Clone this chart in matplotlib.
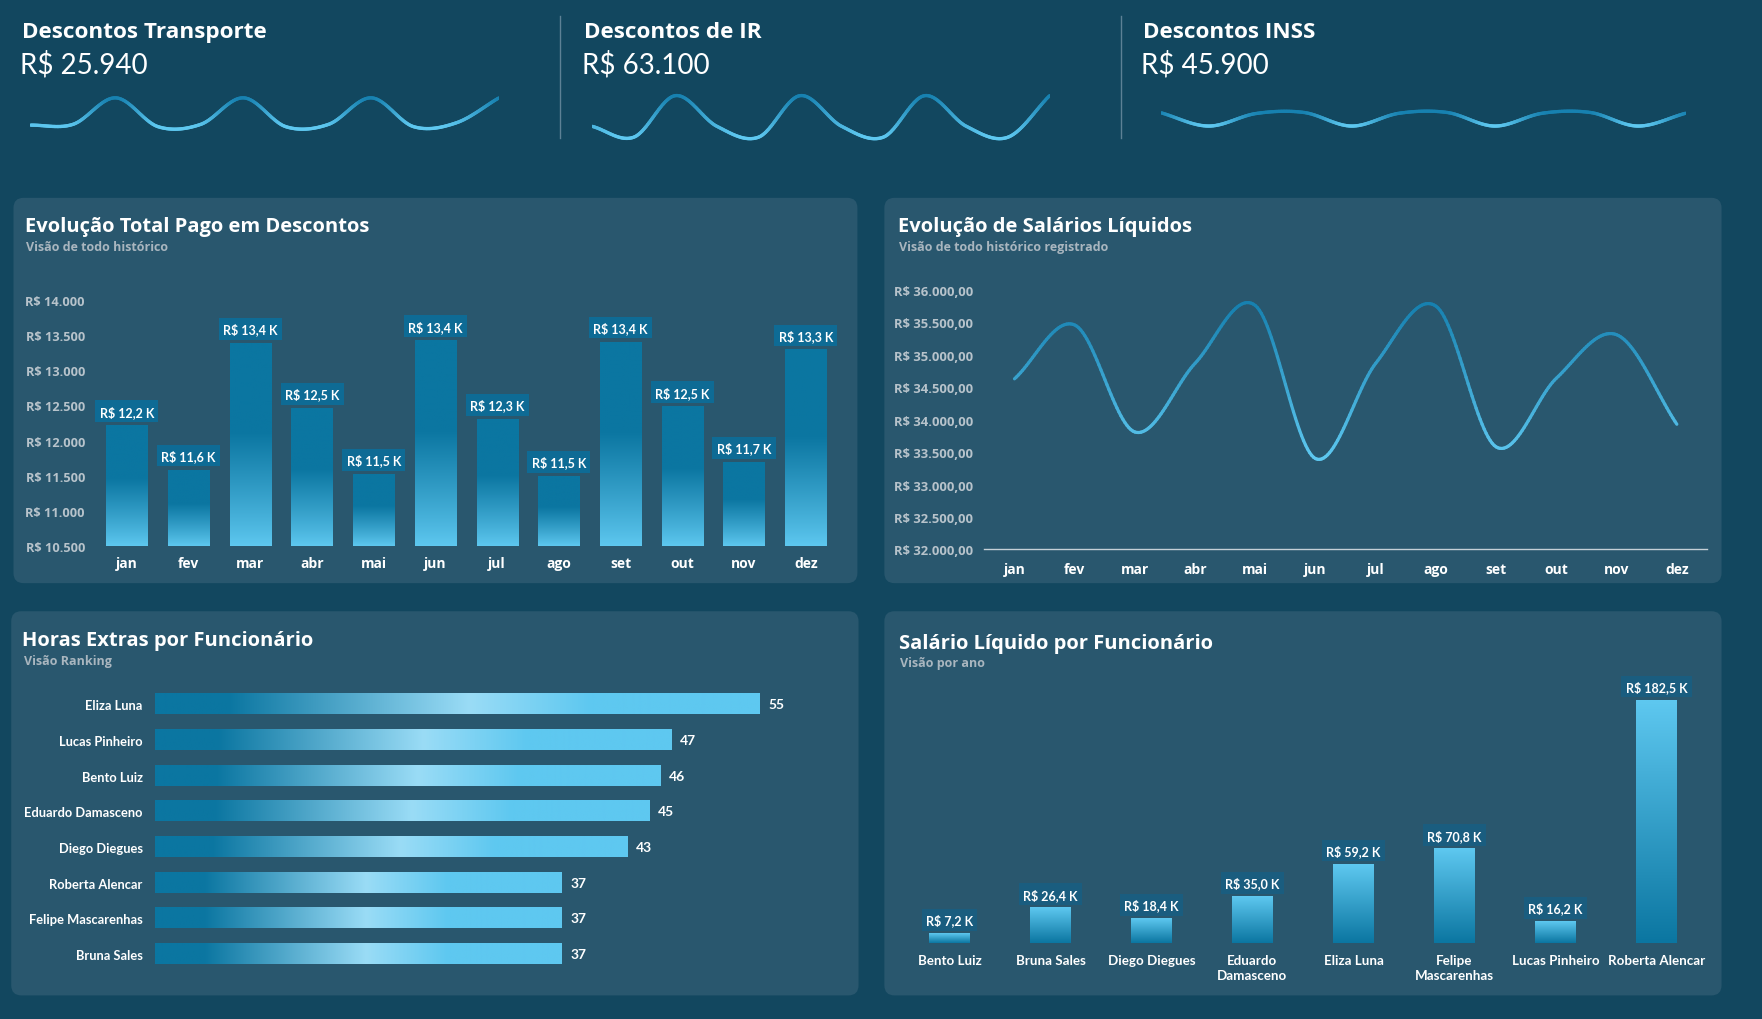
import numpy as np
import matplotlib.pyplot as plt
from matplotlib.patches import FancyBboxPatch
from matplotlib.collections import LineCollection
from matplotlib.colors import to_rgb

# layout grid used for placing things (reference image coords)
W, H = 1568, 908

meses = ['jan', 'fev', 'mar', 'abr', 'mai', 'jun', 'jul', 'ago', 'set', 'out', 'nov', 'dez']

kpi_titulos = ['Descontos Transporte', 'Descontos de IR', 'Descontos INSS']
kpi_valores = ['R$ 25.940', 'R$ 63.100', 'R$ 45.900']
transporte_mes = [2050, 2060, 2400, 2030, 2060, 2400, 2030, 2060, 2400, 2030, 2080, 2400]
ir_mes = [4900, 4300, 6600, 4900, 4300, 6600, 4900, 4300, 6600, 4900, 4300, 6600]
inss_mes = [3990, 3470, 3960, 4000, 3470, 3970, 4000, 3470, 3970, 4000, 3470, 3970]

descontos_mes = [12210, 11580, 13380, 12460, 11520, 13420, 12300, 11490, 13400, 12480, 11690, 13290]
salario_mes = [34630, 35460, 33810, 34870, 35760, 33400, 34870, 35750, 33580, 34640, 35310, 33930]

he_nomes = ['Eliza Luna', 'Lucas Pinheiro', 'Bento Luiz', 'Eduardo Damasceno', 'Diego Diegues',
            'Roberta Alencar', 'Felipe Mascarenhas', 'Bruna Sales']
he_horas = [55, 47, 46, 45, 43, 37, 37, 37]

sal_nomes = ['Bento Luiz', 'Bruna Sales', 'Diego Diegues', 'Eduardo\nDamasceno', 'Eliza Luna',
             'Felipe\nMascarenhas', 'Lucas Pinheiro', 'Roberta Alencar']
sal_valores = [7200, 26400, 18400, 35000, 59200, 70800, 16200, 182500]

BG = '#12475f'
PANEL = '#29576e'
DARK = '#0b76a1'
LIGHT = '#5ec8f0'
PALE = '#9adcf6'
SUB = '#a9b6bf'
TICKC = '#b7c3cb'

F_TITLE = ['Open Sans', 'DejaVu Sans']
F_NARROW = ['Lato', 'DejaVu Sans']
F_TICK = ['Open Sans', 'DejaVu Sans']
F_KPI = ['Lato', 'DejaVu Sans']


def pos(x0, y0, x1, y1):
    return [x0 / W, 1 - y1 / H, (x1 - x0) / W, (y1 - y0) / H]


def brl(v, dec=0):
    s = f"{v:,.{dec}f}"
    return 'R$ ' + s.replace(',', '#').replace('.', ',').replace('#', '.')


def rotulo_k(v):
    return f"R$ {v / 1000:.1f} K".replace('.', ',')


def mistura(c1, c2, f):
    a, b = np.array(to_rgb(c1)), np.array(to_rgb(c2))
    return a * (1 - f) + b * f


def suaviza(x, y, n=30):
    # catmull-rom pelos pontos, so pra desenhar a curva lisa
    x = np.asarray(x, float)
    y = np.asarray(y, float)
    px = np.concatenate([[2 * x[0] - x[1]], x, [2 * x[-1] - x[-2]]])
    py = np.concatenate([[2 * y[0] - y[1]], y, [2 * y[-1] - y[-2]]])
    t = np.linspace(0, 1, n, endpoint=False)
    xs, ys = [], []
    for i in range(1, len(px) - 2):
        for p, out in ((px, xs), (py, ys)):
            p0, p1, p2, p3 = p[i - 1], p[i], p[i + 1], p[i + 2]
            out.extend(0.5 * (2 * p1 + (-p0 + p2) * t + (2 * p0 - 5 * p1 + 4 * p2 - p3) * t ** 2
                              + (-p0 + 3 * p1 - 3 * p2 + p3) * t ** 3))
    xs.append(x[-1])
    ys.append(y[-1])
    return np.array(xs), np.array(ys)


def linha_gradiente(ax, x, y, lw):
    xs, ys = suaviza(x, y)
    pts = np.column_stack([xs, ys]).reshape(-1, 1, 2)
    segs = np.concatenate([pts[:-1], pts[1:]], axis=1)
    lo, hi = min(y), max(y)
    f = ((ys[:-1] + ys[1:]) / 2 - lo) / (hi - lo)
    cores = [mistura(LIGHT, '#1781b0', fi) for fi in np.clip(f, 0, 1)]
    lc = LineCollection(segs, colors=cores, linewidths=lw, capstyle='round', joinstyle='round')
    ax.add_collection(lc)


fig = plt.figure(figsize=(17.62, 10.20), dpi=100, facecolor=BG)
bg = fig.add_axes([0, 0, 1, 1], zorder=-1)
bg.set_xlim(0, W)
bg.set_ylim(H, 0)
bg.axis('off')
bg.add_patch(plt.Rectangle((0, 0), W, H, color=BG))

# ---- KPIs do topo
kpi_x = [20, 520, 1017]
spark_x = [(27, 444), (527, 934), (1033, 1500)]
spark_lim = [(1795, 2515), (3865, 6975), (2730, 4920)]
spark_dados = [transporte_mes, ir_mes, inss_mes]
for i in range(3):
    bg.text(kpi_x[i], 29, kpi_titulos[i], color='white', fontsize=16.2, fontweight='bold',
            family=F_TITLE, va='center')
    bg.text(kpi_x[i] - 2, 58, kpi_valores[i], color='white', fontsize=20, fontweight='normal',
            family=F_KPI, va='center')
    sx = fig.add_axes(pos(spark_x[i][0], 80, spark_x[i][1], 130))
    sx.axis('off')
    sx.patch.set_alpha(0)
    linha_gradiente(sx, range(12), spark_dados[i], 2.4)
    sx.set_xlim(0, 11)
    sx.set_ylim(*spark_lim[i])
for xl in (498, 998):
    bg.plot([xl, xl], [15, 124], color='#5d8195', lw=1)

# ---- paineis
paineis = [(12, 177, 763, 520), (787, 177, 1532, 520), (10, 545, 764, 887), (787, 545, 1532, 887)]
for x0, y0, x1, y1 in paineis:
    bg.add_patch(FancyBboxPatch((x0, y0), x1 - x0, y1 - y0, boxstyle='round,pad=0,rounding_size=9',
                                fc=PANEL, ec='none'))

titulos = [('Evolução Total Pago em Descontos', 'Visão de todo histórico', 22, 202),
           ('Evolução de Salários Líquidos', 'Visão de todo histórico registrado', 799, 202),
           ('Horas Extras por Funcionário', 'Visão Ranking', 20, 571),
           ('Salário Líquido por Funcionário', 'Visão por ano', 800, 573)]
for t, s, x, y in titulos:
    bg.text(x, y, t, color='white', fontsize=14.5, fontweight='bold', family=F_TITLE, va='center')
    bg.text(x + 1, y + 18, s, color=SUB, fontsize=9, fontweight='bold', family=F_TITLE, va='center')

# ---- Evolução Total Pago em Descontos
ax1 = fig.add_axes(pos(85.5, 268, 744.5, 487))
ax1.patch.set_alpha(0)
larg = 0.67
for i, v in enumerate(descontos_mes):
    t = np.linspace(0, 1, 200)
    f = np.clip(t / 0.56, 0, 1) ** 0.9
    grad = np.array([mistura(LIGHT, DARK, fi) for fi in f])[:, None, :]
    ax1.imshow(grad, extent=[i - larg / 2, i + larg / 2, 10500, v], origin='lower',
               aspect='auto', interpolation='bilinear', zorder=2)
    ax1.annotate(rotulo_k(v), (i, v), xytext=(0, 10.5), textcoords='offset points',
                 ha='center', va='center', color='white', fontsize=9, fontweight='bold',
                 family=F_NARROW, zorder=4,
                 bbox=dict(boxstyle='square,pad=0.35', fc='#0e6b95', ec='none'))
ax1.set_xlim(-0.5, 11.5)
ax1.set_ylim(10500, 14000)
ax1.set_yticks(np.arange(10500, 14001, 500))
ax1.set_yticklabels([brl(v) for v in np.arange(10500, 14001, 500)])
ax1.set_xticks(range(12))
ax1.set_xticklabels(meses)
ax1.tick_params(axis='y', length=0, pad=8, labelcolor=TICKC, labelsize=9.2)
ax1.tick_params(axis='x', length=0, pad=7, labelcolor='white', labelsize=10)
for lb in ax1.get_yticklabels() + ax1.get_xticklabels():
    lb.set_fontweight('bold')
    lb.set_family(F_TICK)
for sp in ax1.spines.values():
    sp.set_visible(False)

# ---- Evolução de Salários Líquidos
ax2 = fig.add_axes(pos(876, 259, 1519, 490))
ax2.patch.set_alpha(0)
linha_gradiente(ax2, range(12), salario_mes, 2.3)
ax2.set_xlim(-0.5, 11.5)
ax2.set_ylim(32000, 36000)
ax2.set_yticks(np.arange(32000, 36001, 500))
ax2.set_yticklabels([brl(v, 2) for v in np.arange(32000, 36001, 500)])
ax2.set_xticks(range(12))
ax2.set_xticklabels(meses)
ax2.tick_params(axis='y', length=0, pad=8, labelcolor=TICKC, labelsize=9.4)
ax2.tick_params(axis='x', length=0, pad=9, labelcolor='white', labelsize=10)
for lb in ax2.get_yticklabels() + ax2.get_xticklabels():
    lb.set_fontweight('bold')
    lb.set_family(F_TICK)
for k, sp in ax2.spines.items():
    sp.set_visible(k == 'bottom')
ax2.spines['bottom'].set_color('#c5d0d7')
ax2.spines['bottom'].set_linewidth(1)

# ---- Horas Extras por Funcionário
ax3 = fig.add_axes(pos(138, 612, 700, 866))
ax3.patch.set_alpha(0)
alt = 0.57
paradas = [(0, DARK), (0.12, DARK), (0.52, PALE), (0.72, LIGHT), (1, LIGHT)]
for i, v in enumerate(he_horas):
    t = np.linspace(0, 1, 300)
    cores = []
    for ti in t:
        for (a, ca), (b, cb) in zip(paradas[:-1], paradas[1:]):
            if a <= ti <= b:
                cores.append(mistura(ca, cb, (ti - a) / (b - a)))
                break
    grad = np.array(cores)[None, :, :]
    ax3.imshow(grad, extent=[0, v, i + alt / 2, i - alt / 2], aspect='auto',
               interpolation='bilinear', zorder=2)
    ax3.annotate(str(v), (v, i), xytext=(6, 0), textcoords='offset points', va='center',
                 ha='left', color='white', fontsize=10, fontweight='bold', family=F_NARROW)
ax3.set_xlim(0, 57.45)
ax3.set_ylim(7.5, -0.5)
ax3.set_yticks(range(8))
ax3.set_yticklabels(he_nomes)
ax3.set_xticks([])
ax3.tick_params(axis='y', length=0, pad=9, labelcolor='white', labelsize=9.3)
for lb in ax3.get_yticklabels():
    lb.set_family(F_NARROW)
    lb.set_fontweight('bold')
for sp in ax3.spines.values():
    sp.set_visible(False)

# ---- Salário Líquido por Funcionário
ax4 = fig.add_axes(pos(800, 603, 1519, 840))
ax4.patch.set_alpha(0)
larg = 0.4
for i, v in enumerate(sal_valores):
    t = np.linspace(0, 1, 200)
    grad = np.array([mistura(DARK, LIGHT, ti) for ti in t])[:, None, :]
    ax4.imshow(grad, extent=[i - larg / 2, i + larg / 2, 0, v], origin='lower',
               aspect='auto', interpolation='bilinear', zorder=2)
    ax4.annotate(rotulo_k(v), (i, v), xytext=(0, 9.5), textcoords='offset points',
                 ha='center', va='center', color='white', fontsize=9, fontweight='bold',
                 family=F_NARROW, zorder=4,
                 bbox=dict(boxstyle='square,pad=0.35', fc='#1a5d7f', ec='none'))
ax4.set_xlim(-0.5, 7.5)
ax4.set_ylim(0, 200000)
ax4.set_xticks(range(8))
ax4.set_xticklabels(sal_nomes, linespacing=1.35, va='top')
ax4.set_yticks([])
ax4.tick_params(axis='x', length=0, pad=8, labelcolor='white', labelsize=9.6)
for lb in ax4.get_xticklabels():
    lb.set_family(F_NARROW)
    lb.set_fontweight('bold')
for sp in ax4.spines.values():
    sp.set_visible(False)

fig.savefig('out.png', dpi=100, facecolor=BG)
